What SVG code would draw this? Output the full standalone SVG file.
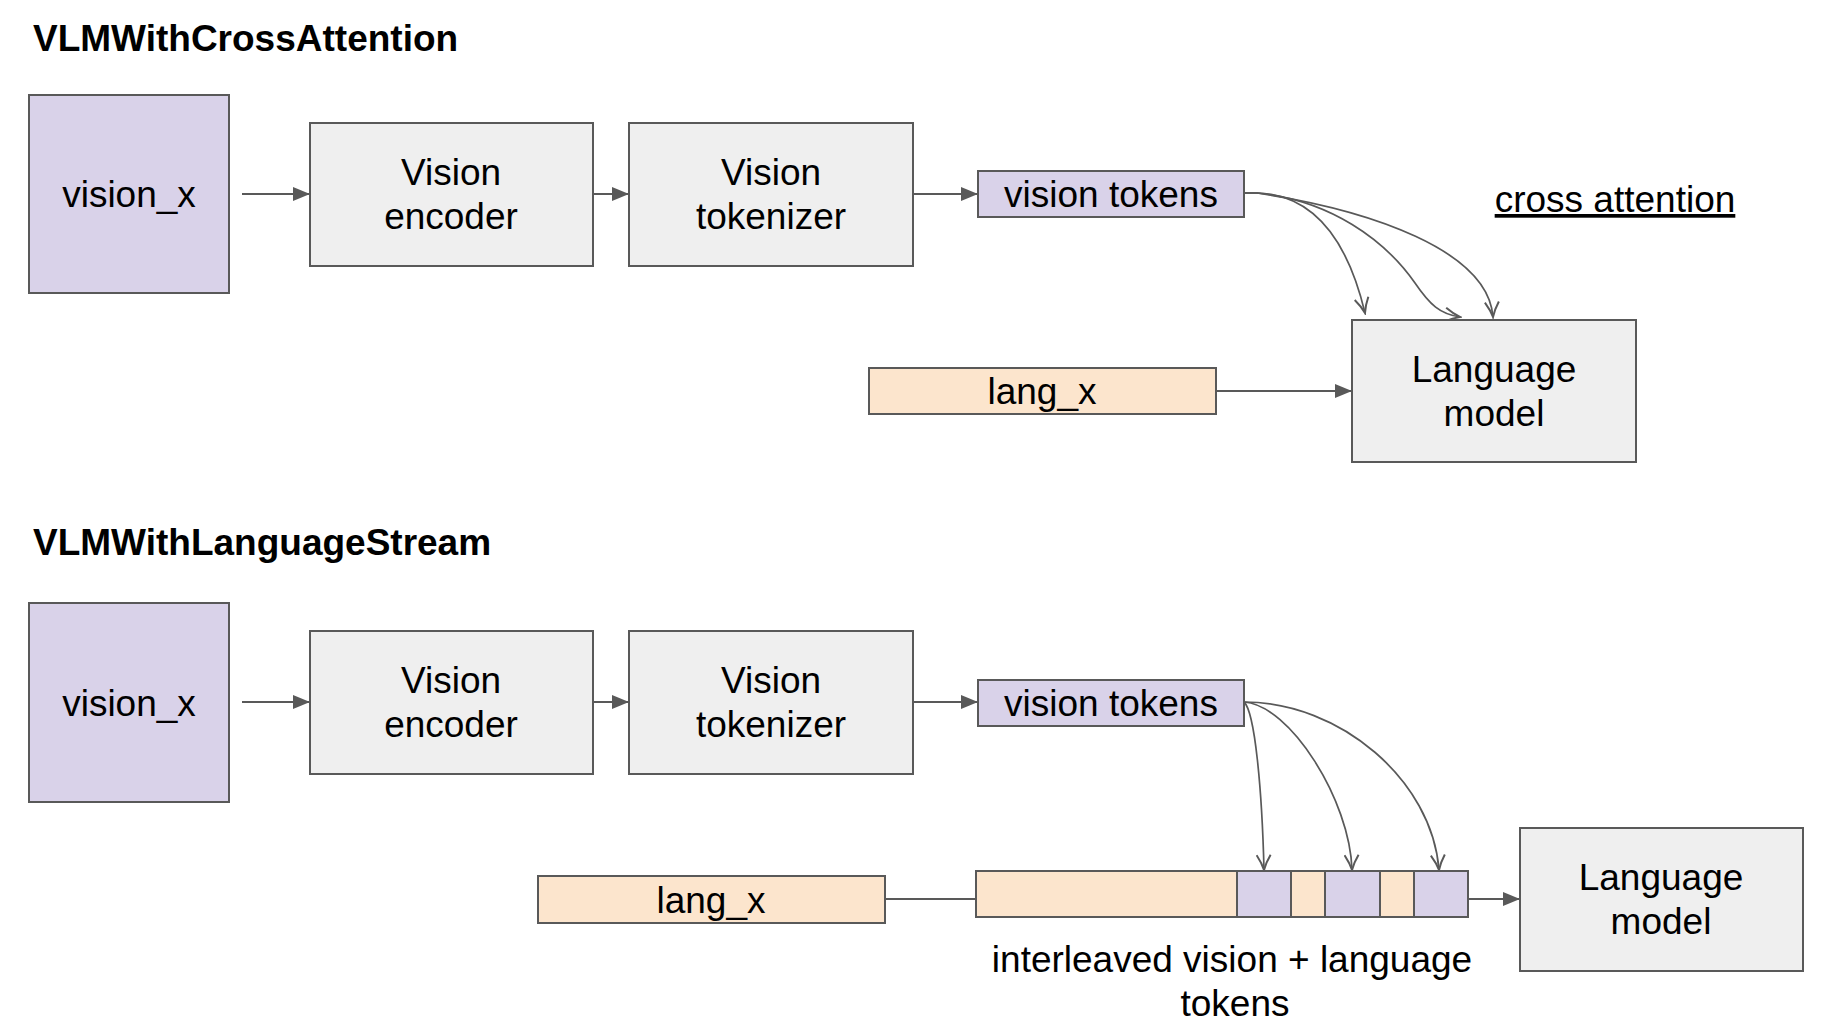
<svg xmlns="http://www.w3.org/2000/svg" width="1838" height="1035" viewBox="0 0 1838 1035">
<style>
text{font-family:"Liberation Sans",Arial,sans-serif;font-size:37px;fill:#000;text-anchor:middle}
.title{font-weight:bold;text-anchor:start}
.box{stroke:#595959;stroke-width:2}
.lav{fill:#d9d2e9}
.peach{fill:#fce5cd}
.gray{fill:#efefef}
.conn{fill:none;stroke:#595959;stroke-width:2}
.curve{fill:none;stroke:#595959;stroke-width:1.7}
</style>
<defs>
<marker id="arr" markerUnits="userSpaceOnUse" markerWidth="17" markerHeight="14" refX="17" refY="7" orient="auto"><path d="M0,0 L17,7 L0,14 z" fill="#595959"/></marker>
<marker id="barb" markerUnits="userSpaceOnUse" markerWidth="18" markerHeight="16" refX="16" refY="8" orient="auto"><path d="M1,1 Q9,6 16,8 Q9,10 1,15" fill="none" stroke="#595959" stroke-width="2"/></marker>
</defs>

<text class="title" x="33" y="51">VLMWithCrossAttention</text>
<text class="title" x="33" y="555">VLMWithLanguageStream</text>

<g id="connectors">
<path class="conn" d="M242,194 H310" marker-end="url(#arr)"/>
<path class="conn" d="M593,194 H629" marker-end="url(#arr)"/>
<path class="conn" d="M913,194 H978" marker-end="url(#arr)"/>
<path class="conn" d="M1216,391 H1352" marker-end="url(#arr)"/>
<path class="curve" d="M1244,193 L1257,193 C1320,195 1350,250 1365,313" marker-end="url(#barb)"/>
<path class="curve" d="M1244,193 L1257,193 C1330,200 1385,240 1415,283 C1430,305 1440,314 1460,317" marker-end="url(#barb)"/>
<path class="curve" d="M1244,193 L1257,193 C1370,210 1488,250 1493,317" marker-end="url(#barb)"/>

<path class="conn" d="M242,702 H310" marker-end="url(#arr)"/>
<path class="conn" d="M593,702 H629" marker-end="url(#arr)"/>
<path class="conn" d="M913,702 H978" marker-end="url(#arr)"/>
<path class="conn" d="M885,899 H976"/>
<path class="conn" d="M1468,899 H1520" marker-end="url(#arr)"/>
<path class="curve" d="M1244,702 C1255,712 1262,790 1264,870" marker-end="url(#barb)"/>
<path class="curve" d="M1244,702 C1290,705 1350,800 1352,870" marker-end="url(#barb)"/>
<path class="curve" d="M1244,702 C1340,702 1432,780 1439,870" marker-end="url(#barb)"/>
</g>

<g id="vision_x_1"><rect class="box lav" x="29" y="95" width="200" height="198"/><text x="129" y="207">vision_x</text></g>
<g id="vision_encoder_1"><rect class="box gray" x="310" y="123" width="283" height="143"/><text x="451" y="185">Vision</text><text x="451" y="229">encoder</text></g>
<g id="vision_tokenizer_1"><rect class="box gray" x="629" y="123" width="284" height="143"/><text x="771" y="185">Vision</text><text x="771" y="229">tokenizer</text></g>
<g id="vision_tokens_1"><rect class="box lav" x="978" y="171" width="266" height="46"/><text x="1111" y="207">vision tokens</text></g>
<g id="cross_attention"><text x="1615" y="212" text-decoration="underline">cross attention</text></g>
<g id="lang_x_1"><rect class="box peach" x="869" y="368" width="347" height="46"/><text x="1042" y="404">lang_x</text></g>
<g id="language_model_1"><rect class="box gray" x="1352" y="320" width="284" height="142"/><text x="1494" y="382">Language</text><text x="1494" y="426">model</text></g>

<g id="vision_x_2"><rect class="box lav" x="29" y="603" width="200" height="199"/><text x="129" y="716">vision_x</text></g>
<g id="vision_encoder_2"><rect class="box gray" x="310" y="631" width="283" height="143"/><text x="451" y="693">Vision</text><text x="451" y="737">encoder</text></g>
<g id="vision_tokenizer_2"><rect class="box gray" x="629" y="631" width="284" height="143"/><text x="771" y="693">Vision</text><text x="771" y="737">tokenizer</text></g>
<g id="vision_tokens_2"><rect class="box lav" x="978" y="680" width="266" height="46"/><text x="1111" y="716">vision tokens</text></g>
<g id="lang_x_2"><rect class="box peach" x="538" y="876" width="347" height="47"/><text x="711" y="913">lang_x</text></g>
<g id="interleaved_tokens">
<rect class="peach" x="976" y="871" width="492" height="46"/>
<rect class="lav" x="1237" y="871" width="54" height="46"/>
<rect class="lav" x="1325" y="871" width="55" height="46"/>
<rect class="lav" x="1414" y="871" width="54" height="46"/>
<path class="conn" d="M1237,871 V917 M1291,871 V917 M1325,871 V917 M1380,871 V917 M1414,871 V917"/>
<rect class="box" fill="none" x="976" y="871" width="492" height="46"/>
<text x="1232" y="972">interleaved vision + language</text>
<text x="1235" y="1016">tokens</text>
</g>
<g id="language_model_2"><rect class="box gray" x="1520" y="828" width="283" height="143"/><text x="1661" y="890">Language</text><text x="1661" y="934">model</text></g>
</svg>
